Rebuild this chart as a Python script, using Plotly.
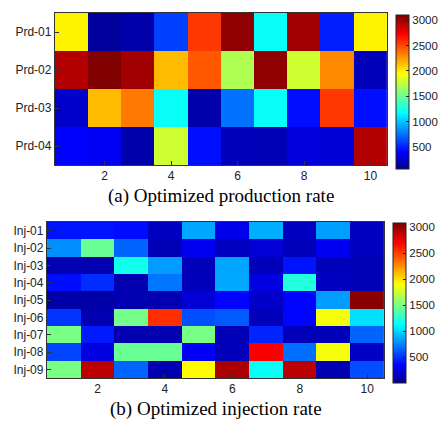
import plotly.graph_objects as go

cols = list(range(1, 11))
prd_labels = ["Prd-01", "Prd-02", "Prd-03", "Prd-04"]
inj_labels = ["Inj-01", "Inj-02", "Inj-03", "Inj-04", "Inj-05",
              "Inj-06", "Inj-07", "Inj-08", "Inj-09"]

prd_rates = [
    [1980, 110, 150, 600, 2550, 3050, 1200, 3000, 500, 1980],
    [2950, 3100, 3000, 2150, 2450, 1700, 3050, 1800, 2300, 200],
    [250, 2150, 2350, 1200, 150, 750, 1200, 450, 2550, 450],
    [400, 380, 150, 1800, 450, 200, 180, 300, 280, 2950],
]

inj_rates = [
    [400, 400, 380, 150, 850, 280, 880, 150, 830, 150],
    [780, 1450, 650, 120, 300, 150, 220, 130, 300, 150],
    [100, 100, 1180, 820, 130, 850, 130, 400, 130, 120],
    [380, 480, 100, 700, 130, 860, 250, 1230, 150, 120],
    [80, 80, 100, 100, 220, 350, 180, 350, 820, 3050],
    [500, 100, 1480, 2550, 580, 620, 130, 350, 1880, 1030],
    [1500, 420, 100, 100, 1500, 120, 450, 130, 120, 650],
    [550, 250, 1450, 1450, 320, 130, 2700, 680, 1880, 170],
    [1500, 2900, 650, 100, 1920, 2950, 1150, 2900, 100, 580],
]

cbar_ticks = [500, 1000, 1500, 2000, 2500, 3000]
x_ticks = [2, 4, 6, 8, 10]

jet = [
    [0.0, "rgb(0,0,143)"],
    [0.111, "rgb(0,0,255)"],
    [0.365, "rgb(0,255,255)"],
    [0.619, "rgb(255,255,0)"],
    [0.873, "rgb(255,0,0)"],
    [1.0, "rgb(128,0,0)"],
]

W, H = 441, 421
tick_font = dict(family="Arial, Liberation Sans, sans-serif", size=12, color="#222")
cbar_font = dict(family="Arial, Liberation Sans, sans-serif", size=11.5, color="#222")
title_font = dict(family="Times New Roman, Liberation Serif, serif", size=19, color="black")

fig = go.Figure()

fig.add_trace(go.Heatmap(
    z=prd_rates, x=cols, y=prd_labels, colorscale=jet, zmin=70, zmax=3100,
    xaxis="x", yaxis="y",
    colorbar=dict(x=396 / W, xanchor="left", y=1 - 92 / H, yanchor="middle",
                  len=154, lenmode="pixels", thickness=13, thicknessmode="pixels",
                  tickvals=cbar_ticks, ticks="inside", ticklen=3, tickcolor="#222",
                  tickfont=cbar_font, outlinecolor="#222", outlinewidth=1, xpad=0, ypad=0),
))

fig.add_trace(go.Heatmap(
    z=inj_rates, x=cols, y=inj_labels, colorscale=jet, zmin=0, zmax=3080,
    xaxis="x2", yaxis="y2",
    colorbar=dict(x=393 / W, xanchor="left", y=1 - 303 / H, yanchor="middle",
                  len=160, lenmode="pixels", thickness=13, thicknessmode="pixels",
                  tickvals=cbar_ticks, ticks="inside", ticklen=3, tickcolor="#222",
                  tickfont=cbar_font, outlinecolor="#222", outlinewidth=1, xpad=0, ypad=0),
))

axis_common = dict(showline=True, mirror=True, linecolor="#333", linewidth=1,
                   ticks="inside", ticklen=4, tickcolor="#333", tickfont=tick_font,
                   showgrid=False, zeroline=False)

fig.update_layout(
    width=W, height=H,
    margin=dict(l=0, r=0, t=0, b=0),
    paper_bgcolor="white", plot_bgcolor="white",
    showlegend=False,
    xaxis=dict(domain=[55 / W, 388 / W], anchor="y", tickvals=x_ticks,
               range=[0.5, 10.5], **axis_common),
    yaxis=dict(domain=[1 - 165 / H, 1 - 13 / H], anchor="x",
               autorange="reversed", **axis_common),
    xaxis2=dict(domain=[47 / W, 385 / W], anchor="y2", tickvals=x_ticks,
                range=[0.5, 10.5], **axis_common),
    yaxis2=dict(domain=[1 - 378 / H, 1 - 222 / H], anchor="x2",
                autorange="reversed", **axis_common),
    annotations=[
        dict(text="(a) Optimized production rate", x=(55 + 388) / 2 / W, y=1 - 196 / H,
             xref="paper", yref="paper", xanchor="center", yanchor="middle",
             showarrow=False, font=title_font),
        dict(text="(b) Optimized injection rate", x=(47 + 385) / 2 / W, y=1 - 409 / H,
             xref="paper", yref="paper", xanchor="center", yanchor="middle",
             showarrow=False, font=title_font),
    ],
)

fig.write_html("out.html", config={"displayModeBar": False},
               post_script="document.body.style.margin='0';document.body.style.overflow='hidden';")
